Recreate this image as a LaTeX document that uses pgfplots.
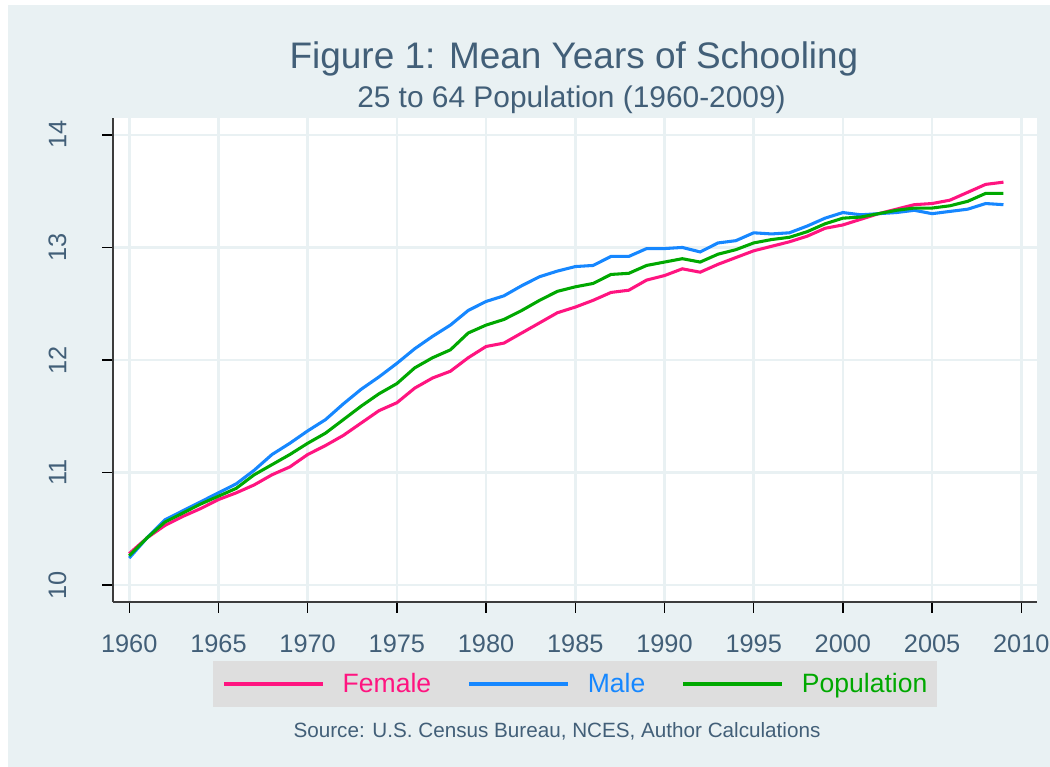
\documentclass[border=0pt]{standalone}
\usepackage{fontspec}
\setmainfont{Liberation Sans}
\usepackage{pgfplots}
\pgfplotsset{compat=1.18}
\usepackage{pgfplotstable}
\definecolor{bg}{RGB}{233,241,243}
\definecolor{gridc}{RGB}{233,241,243}
\definecolor{txtc}{RGB}{66,95,120}
\definecolor{fcol}{RGB}{255,20,128}
\definecolor{mcol}{RGB}{22,135,255}
\definecolor{pcol}{RGB}{0,168,0}
\definecolor{leggray}{RGB}{222,222,222}
\definecolor{axc}{RGB}{60,60,60}
\pgfplotstableread{
year female male pop
1960 10.28 10.24 10.26
1961 10.42 10.42 10.42
1962 10.53 10.58 10.56
1963 10.61 10.66 10.64
1964 10.68 10.74 10.72
1965 10.76 10.82 10.79
1966 10.82 10.90 10.86
1967 10.89 11.02 10.98
1968 10.98 11.16 11.07
1969 11.05 11.26 11.16
1970 11.16 11.37 11.26
1971 11.24 11.47 11.35
1972 11.33 11.61 11.47
1973 11.44 11.74 11.59
1974 11.55 11.85 11.70
1975 11.62 11.97 11.79
1976 11.75 12.10 11.93
1977 11.84 12.21 12.02
1978 11.90 12.31 12.09
1979 12.02 12.44 12.24
1980 12.12 12.52 12.31
1981 12.15 12.57 12.36
1982 12.24 12.66 12.44
1983 12.33 12.74 12.53
1984 12.42 12.79 12.61
1985 12.47 12.83 12.65
1986 12.53 12.84 12.68
1987 12.60 12.92 12.76
1988 12.62 12.92 12.77
1989 12.71 12.99 12.84
1990 12.75 12.99 12.87
1991 12.81 13.00 12.90
1992 12.78 12.96 12.87
1993 12.85 13.04 12.94
1994 12.91 13.06 12.98
1995 12.97 13.13 13.04
1996 13.01 13.12 13.07
1997 13.05 13.13 13.09
1998 13.10 13.19 13.14
1999 13.17 13.26 13.21
2000 13.20 13.31 13.26
2001 13.25 13.29 13.27
2002 13.30 13.30 13.30
2003 13.34 13.31 13.33
2004 13.38 13.33 13.35
2005 13.39 13.30 13.35
2006 13.42 13.32 13.37
2007 13.49 13.34 13.41
2008 13.56 13.39 13.48
2009 13.58 13.38 13.48
}\data
\begin{document}
\begin{tikzpicture}
\useasboundingbox (0,0) rectangle (787.5pt,575.25pt);
\fill[white] (0,0) rectangle (787.5pt,575.25pt);
\fill[bg] (6pt,0) rectangle (787.5pt,571.5pt);
\begin{axis}[
  at={(84.75pt,123.75pt)}, anchor=south west,
  scale only axis, width=693pt, height=363pt,
  xmin=1959.09, xmax=2010.88, ymin=9.85, ymax=14.15,
  axis lines*=left,
  axis line style={draw=axc, line width=1.1pt},
  axis background/.style={fill=white},
  xtick={1960,1965,...,2010}, ytick={10,11,12,13,14},
  tick align=outside, major tick length=8.25pt,
  tick style={draw=black, line width=1pt},
  grid=major, major grid style={draw=gridc, line width=2pt},
  /pgf/number format/assume math mode=true,
  /pgf/number format/1000 sep={},
  ticklabel style={text=txtc, font=\fontsize{19}{22}\selectfont, inner sep=0pt},
  xticklabel style={anchor=base, yshift=-29.75pt},
  yticklabel style={rotate=90, anchor=south, yshift=26.5pt},
  legend style={at={(0.5,-0.1694)}, anchor=center, fill=leggray, draw=none,
    inner xsep=7.5pt, inner ysep=9.5pt,
    nodes={inner sep=0pt, font=\fontsize{19.9}{22}\selectfont},
    /tikz/every odd column/.append style={column sep=13.5pt},
    /tikz/every even column/.append style={column sep=27.4pt}},
  legend columns=3,
  legend image code/.code={\draw[#1, line width=2.3pt] (0pt,0pt) -- (74.25pt,0pt);},
]
\addplot[fcol, line width=2.3pt] table[x=year, y=female] {\data};
\addlegendentry{\textcolor{fcol}{Female}}
\addplot[mcol, line width=2.3pt] table[x=year, y=male] {\data};
\addlegendentry{\textcolor{mcol}{Male}}
\addplot[pcol, line width=2.3pt] table[x=year, y=pop] {\data};
\addlegendentry{\textcolor{pcol}{Population}}
\end{axis}
\node[anchor=base, text=txtc, font=\fontsize{27.7}{30}\selectfont, inner sep=0pt] at (430.5pt,524pt) {Figure 1: Mean Years of Schooling};
\node[anchor=base, text=txtc, font=\fontsize{22.4}{26}\selectfont, inner sep=0pt] at (428.6pt,494.8pt) {25 to 64 Population (1960-2009)};
\node[anchor=base, text=txtc, font=\fontsize{15.5}{18}\selectfont, inner sep=0pt] at (417.75pt,22.3pt) {Source: U.S. Census Bureau, NCES, Author Calculations};
\end{tikzpicture}
\end{document}
